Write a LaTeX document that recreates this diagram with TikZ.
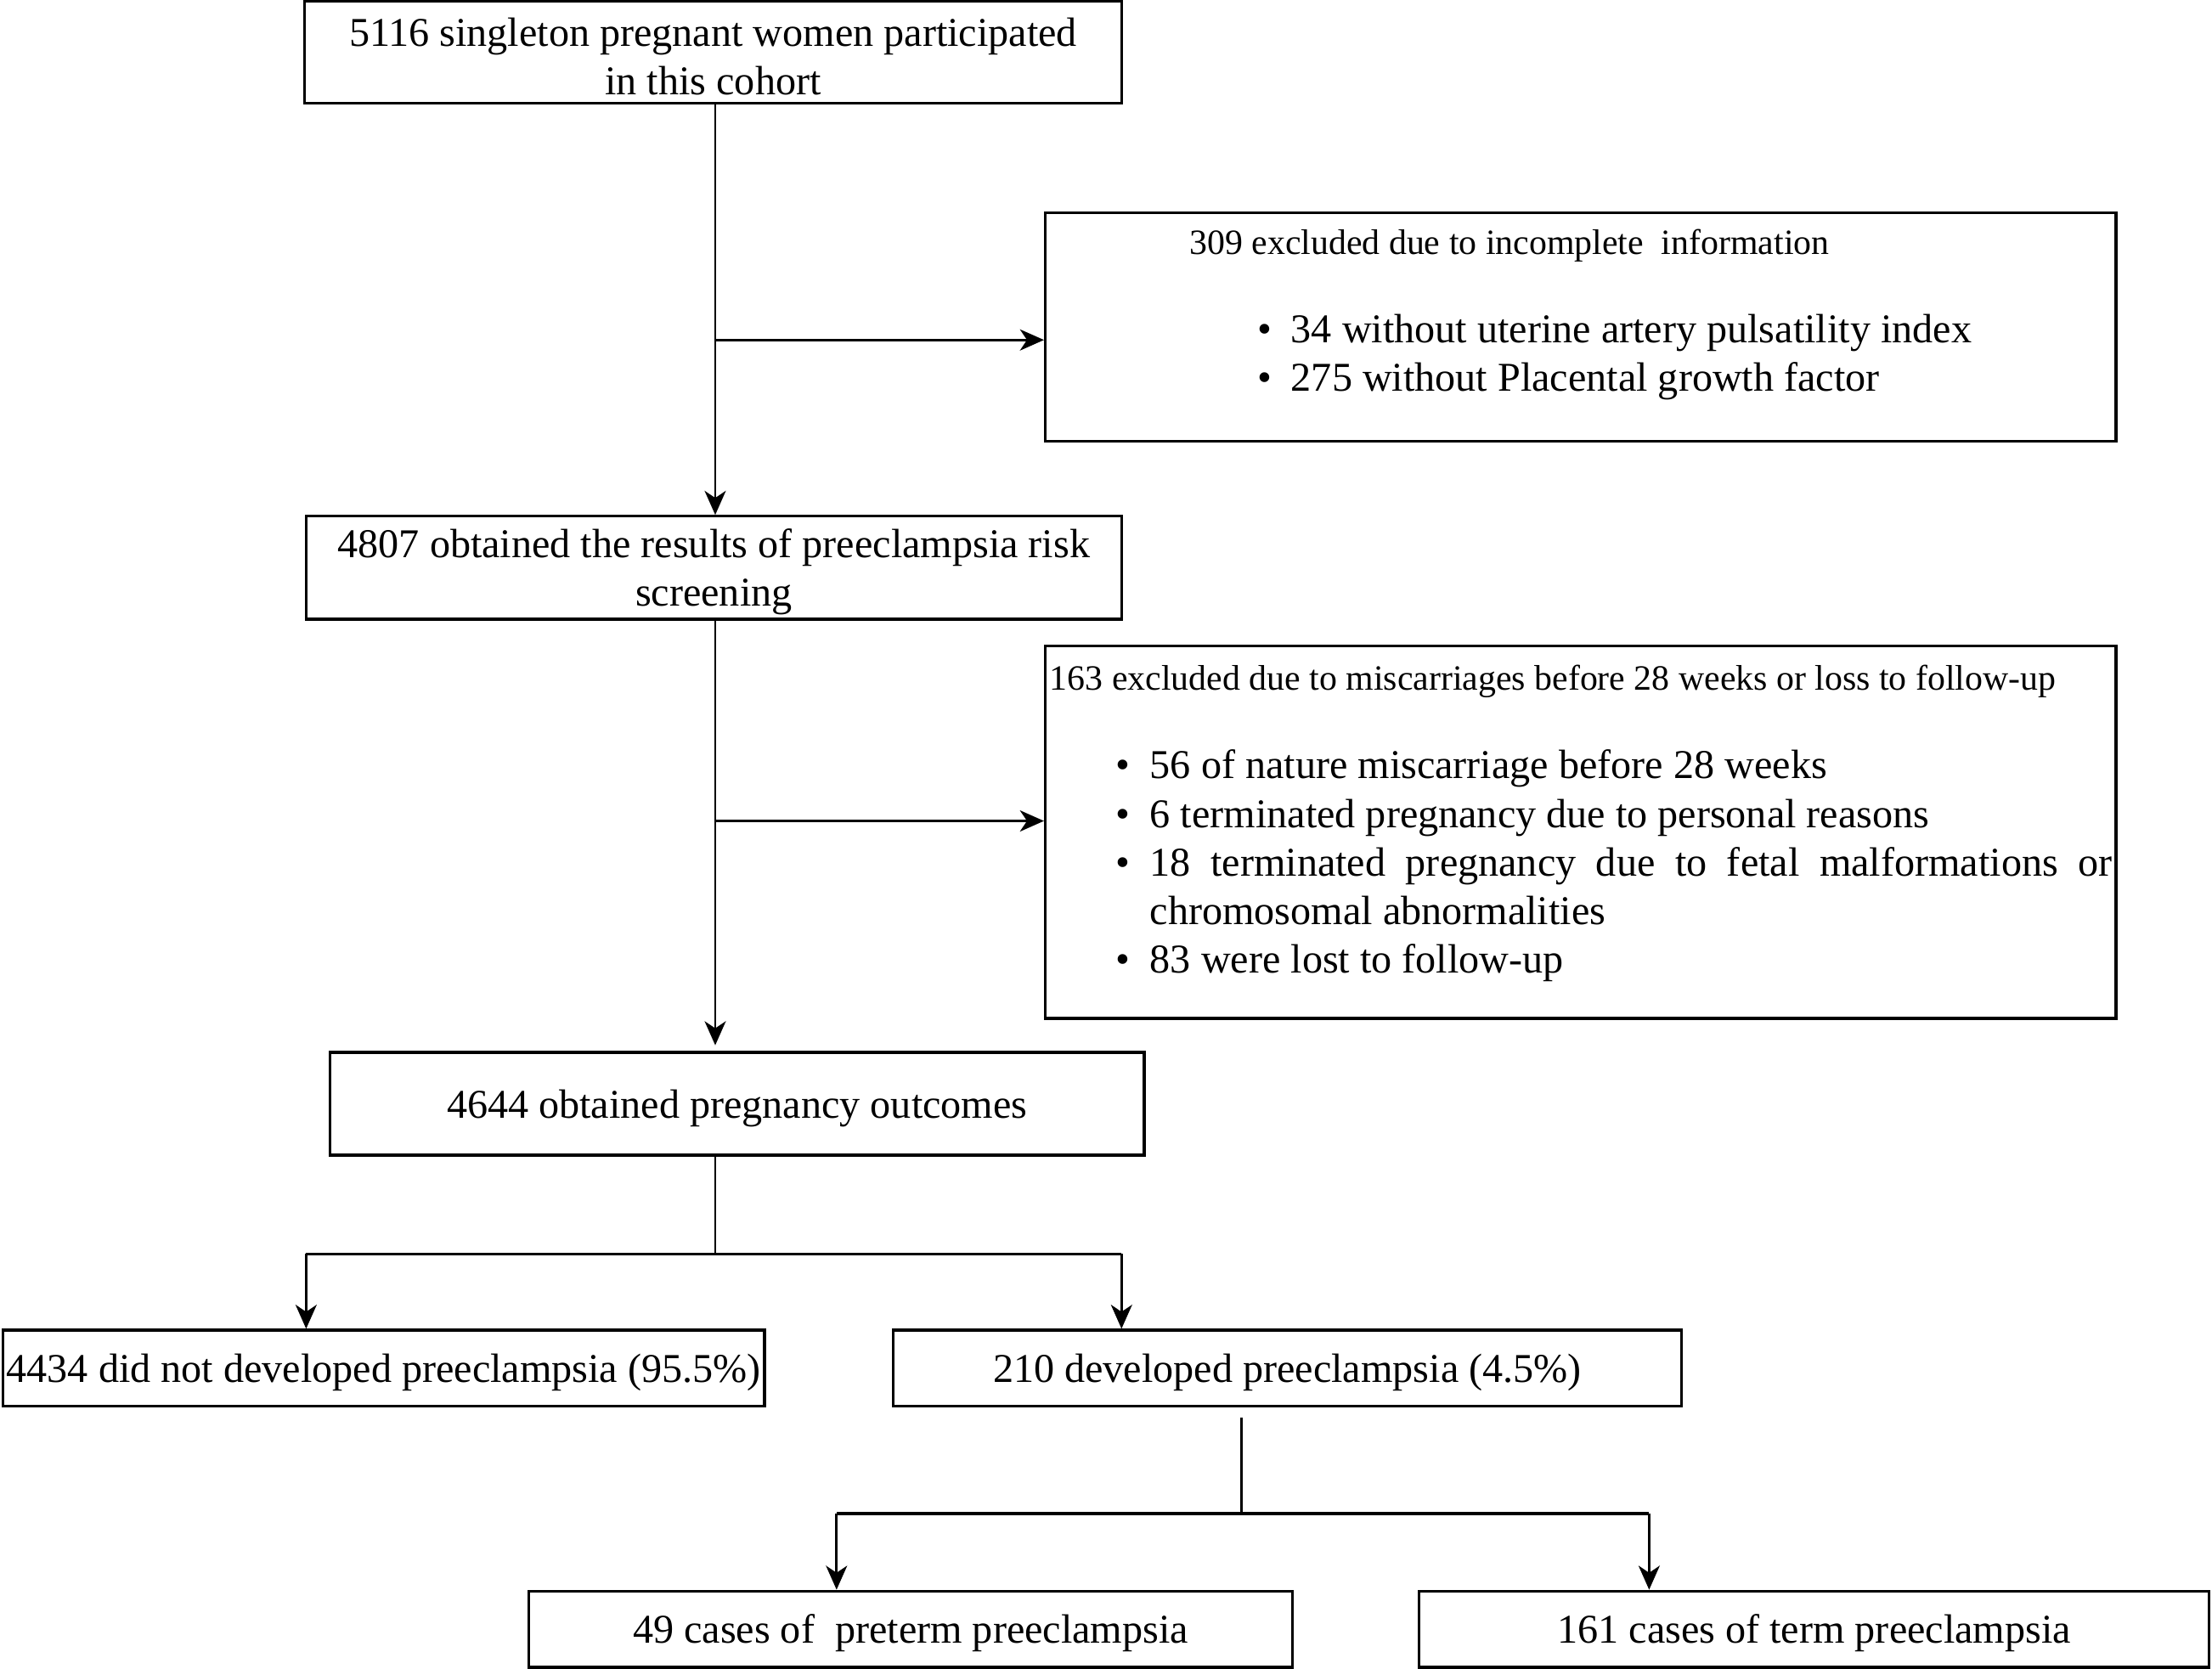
\documentclass[tikz,border=0pt]{standalone}
\usepackage{fontspec}
\setmainfont{Liberation Serif}
\usetikzlibrary{arrows.meta}
\newcommand\mainfs{\fontsize{29}{34.5}\selectfont}
\newcommand\titlefs{\fontsize{25.2}{29}\selectfont}
\newcommand\bitem[1]{\hangindent=24pt\hangafter=1\noindent\makebox[24pt][l]{\textbullet}#1\par}
\begin{document}
\begin{tikzpicture}[x=1pt,y=-1pt,
  boxsty/.style={draw=black, line width=2pt, inner sep=0pt},
  btxt/.style={inner sep=0pt, align=center, font=\mainfs, yshift=-3pt},
  conn/.style={line width=1.7pt},
  split/.style={line width=2pt},
  arr/.style={conn, -{Stealth[length=17pt,width=15pt,inset=5pt]}},
  txt/.style={inner sep=0pt}]
\useasboundingbox (0,0) rectangle (1568,1183);
% boxes
\node[boxsty, minimum width=579pt, minimum height=72pt] (b1) at (505.5,37) {};
\node[boxsty, minimum width=578pt, minimum height=73pt] (b2) at (506,402.5) {};
\node[boxsty, minimum width=759pt, minimum height=162pt] (b3) at (1120.5,232) {};
\node[boxsty, minimum width=759pt, minimum height=264pt] (b5) at (1120.5,590) {};
\node[boxsty, minimum width=577pt, minimum height=73pt] (b4) at (522.5,782.5) {};
\node[boxsty, minimum width=540pt, minimum height=54pt] (b6) at (272,970) {};
\node[boxsty, minimum width=559pt, minimum height=54pt] (b7) at (912.5,970) {};
\node[boxsty, minimum width=541pt, minimum height=54pt] (b8) at (645.5,1155) {};
\node[boxsty, minimum width=560pt, minimum height=54pt] (b9) at (1286,1155) {};
% box texts
\node[btxt] (b1t) at (b1.center) {5116 singleton pregnant women participated\\in this cohort};
\node[btxt] (b2t) at (b2.center) {4807 obtained the results of preeclampsia risk\\screening};
\node[btxt] (b4t) at (b4.center) {4644 obtained pregnancy outcomes};
\node[btxt] (b6t) at (b6.center) {4434 did not developed preeclampsia (95.5\%)};
\node[btxt] (b7t) at (b7.center) {210 developed preeclampsia (4.5\%)};
\node[btxt] (b8t) at (b8.center) {49 cases of\ \ preterm preeclampsia};
\node[btxt] (b9t) at (b9.center) {161 cases of term preeclampsia};
% texts in exclusion boxes
\node[txt, anchor=west, font=\titlefs] (t3) at (843,174) {309 excluded due to incomplete\ \ information};
\node[txt, anchor=base west] (l3) at (891,243) {\begin{minipage}[t]{600pt}\mainfs
\bitem{34 without uterine artery pulsatility index}
\bitem{275 without Placental growth factor}
\end{minipage}};
\node[txt, anchor=west, font=\titlefs] (t5) at (744,483) {163 excluded due to miscarriages before 28 weeks or loss to follow-up};
\node[txt, anchor=base west] (l5) at (791,552) {\begin{minipage}[t]{706pt}\mainfs
\bitem{56 of nature miscarriage before 28 weeks}
\bitem{6 terminated pregnancy due to personal reasons}
\bitem{18 terminated pregnancy due to fetal malformations or\linebreak chromosomal abnormalities}
\bitem{83 were lost to follow-up}
\end{minipage}};
% connector coordinates
\coordinate (tk) at (507,0);
\coordinate (j1) at (507,241);
\coordinate (j2) at (507,582);
\coordinate (e4) at (507,741);
\coordinate (s1) at (507,889);
\coordinate (s1l) at (217,889);
\coordinate (s1r) at (795,889);
\coordinate (c2) at (880,1005);
\coordinate (s2) at (880,1073);
\coordinate (s2l) at (593,1073);
\coordinate (s2r) at (1169,1073);
% connectors
\draw[arr] (b1.south -| tk) -- (b2.north -| tk);
\draw[arr] (j1) -- (j1 -| b3.west);
\draw[arr] (b2.south -| tk) -- (e4);
\draw[arr] (j2) -- (j2 -| b5.west);
\draw[conn] (b4.south -| tk) -- (s1);
\draw[split] (s1l) -- (s1r);
\draw[arr] (s1l) -- (s1l |- b6.north);
\draw[arr] (s1r) -- (s1r |- b7.north);
\draw[conn] (c2) -- (s2);
\draw[split] (s2l) -- (s2r);
\draw[arr] (s2l) -- (s2l |- b8.north);
\draw[arr] (s2r) -- (s2r |- b9.north);
\end{tikzpicture}
\end{document}
